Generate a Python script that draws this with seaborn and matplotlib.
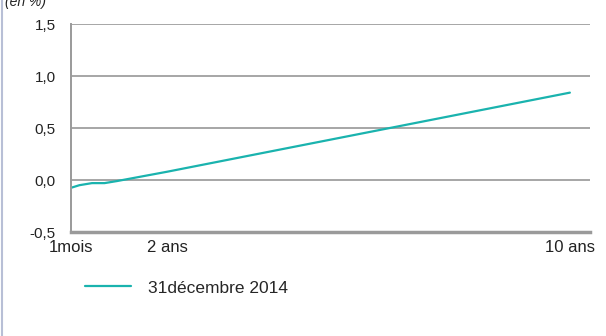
import numpy as np
import pandas as pd
import matplotlib.pyplot as plt
import seaborn as sns
from matplotlib.lines import Line2D

# maturities in years and yields (en %)
maturite = [1/12, 0.25, 0.5, 0.75, 1, 2, 3, 5, 7, 10]
taux = [-0.075, -0.05, -0.03, -0.03, -0.01, 0.08, 0.175, 0.365, 0.555, 0.84]
serie = "31décembre 2014"
xticks = [1/12, 2, 10]
xlabels = ["1mois", "2 ans", "10 ans"]
yticks = [-0.5, 0.0, 0.5, 1.0, 1.5]
ylabels = ["-0,5", "0,0", "0,5", "1,0", "1,5"]

df = pd.DataFrame({"maturite": maturite, "taux": taux, "serie": serie})

sns.set_theme(style="white")
plt.rcParams['font.family'] = ['Liberation Sans', 'DejaVu Sans']

fig = plt.figure(figsize=(6.06, 3.36), dpi=100)
ax = fig.add_axes([71/606, 1-232/336, (590-71)/606, (232-24)/336])
sns.lineplot(data=df, x="maturite", y="taux", color="#1ab3ae", linewidth=1.6, ax=ax, legend=False)

ax.set_xlim(1/12, 10.4)
ax.set_ylim(-0.5, 1.5)
ax.set_yticks(yticks)
ax.set_yticklabels(ylabels, fontsize=11, color="#222222")
ax.set_xticks(xticks)
ax.set_xticklabels(xlabels, fontsize=12, color="#222222")
ax.tick_params(axis="both", length=0)
ax.tick_params(axis="y", pad=11)
ax.tick_params(axis="x", pad=6)
ax.set_xlabel("")
ax.set_ylabel("")
for v in yticks[1:]:
    ax.axhline(v, color="#a6a6a6", linewidth=1.4, zorder=0)
for s in ["top", "right"]:
    ax.spines[s].set_visible(False)
ax.spines["left"].set_color("#9a9a9a")
ax.spines["left"].set_linewidth(1.4)
ax.spines["bottom"].set_color("#9a9a9a")
ax.spines["bottom"].set_linewidth(2.5)

fig.text(5/606, 1-2/336, "(en %)", fontsize=10, style="italic", color="#222222", va="center")

# legend drawn manually below the axes
handle = Line2D([0], [0], color="#1ab3ae", linewidth=1.6)
fig.legend([handle], [serie], loc="center left", bbox_to_anchor=(69/606, 1-288/336),
           frameon=False, fontsize=12.5, handlelength=2.65, handletextpad=1.0)

# thin left border of the figure
fig.add_artist(Line2D([2/606, 2/606], [0, 1], color="#b8bfd6", linewidth=1.5, transform=fig.transFigure))

fig.savefig("out.png", dpi=100)
